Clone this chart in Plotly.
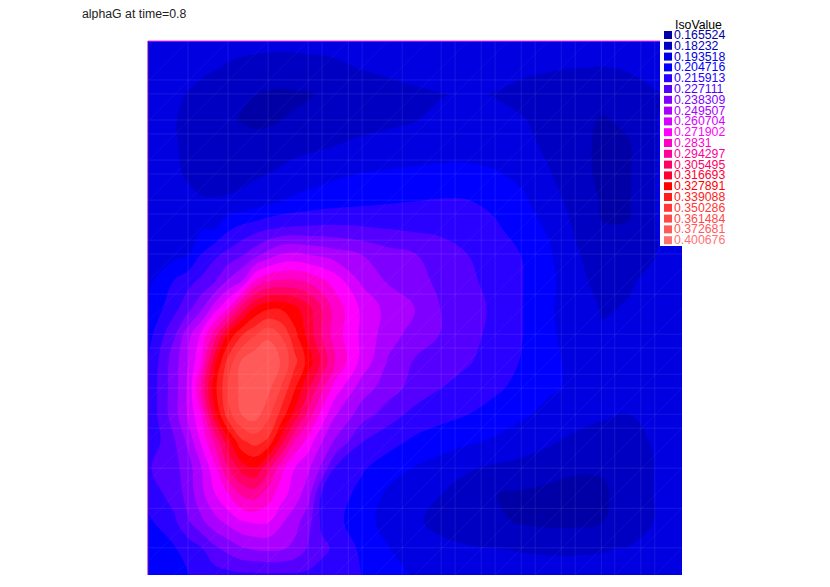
"""
alphaG field at time=0.8, filled iso-value plot.
"""

import plotly.graph_objects as go

title_text = "alphaG at time=0.8"
legend_title = "IsoValue"

iso_labels = [
    "0.165524", "0.18232", "0.193518", "0.204716", "0.215913",
    "0.227111", "0.238309", "0.249507", "0.260704", "0.271902",
    "0.2831", "0.294297", "0.305495", "0.316693", "0.327891",
    "0.339088", "0.350286", "0.361484", "0.372681", "0.400676",
]
iso_colors = [
    "#0000a6", "#0000c3", "#0000e1", "#0000ff", "#2a00ff",
    "#5500ff", "#8000ff", "#aa00ff", "#d500ff", "#ff00ff",
    "#ff00cc", "#ff0099", "#ff0066", "#ff0033", "#ff0000",
    "#ff1c1c", "#ff3838", "#ff4848", "#ff5a5a", "#ff7272",
]

# iso lines used for the filled bands (0.18232 up to 0.372681)
first_level = 0.18232
level_step = 0.011198
last_level = 0.37269

# columns are closer together across the peak
grid_x = [0.00, 0.05, 0.075, 0.10, 0.125, 0.15, 0.175, 0.20, 0.225, 0.25, 0.275, 0.30, 0.325, 0.35,
          0.40, 0.45, 0.50, 0.55, 0.60, 0.65, 0.70, 0.75, 0.80, 0.85, 0.90, 0.95, 1.00]
grid_y = [0.00, 0.05, 0.10, 0.15, 0.20, 0.25, 0.30, 0.35, 0.40, 0.45, 0.50,
          0.55, 0.60, 0.65, 0.70, 0.75, 0.80, 0.85, 0.90, 0.95, 1.00]

# rows run from the top of the picture to the bottom
alpha_g = [
    [.2012, .2001, .1995, .1990, .1985, .1979, .1973, .1968, .1968, .1968, .1968, .1968, .1968, .1968, .1968, .1979, .1979, .1990, .1990, .1979, .1968, .1968, .1956, .1956, .1968, .1979, .2001],
    [.2001, .1990, .1978, .1962, .1942, .1923, .1910, .1900, .1893, .1889, .1893, .1900, .1907, .1917, .1940, .1956, .1973, .1990, .1990, .1973, .1956, .1945, .1936, .1934, .1945, .1968, .1990],
    [.1990, .1956, .1928, .1900, .1878, .1861, .1830, .1824, .1813, .1805, .1811, .1815, .1835, .1856, .1878, .1900, .1917, .1932, .1945, .1932, .1906, .1884, .1872, .1867, .1889, .1928, .1968],
    [.1984, .1940, .1912, .1889, .1861, .1835, .1819, .1800, .1805, .1824, .1833, .1850, .1861, .1872, .1900, .1917, .1934, .1956, .1968, .1956, .1943, .1906, .1867, .1811, .1844, .1932, .1968],
    [.1984, .1940, .1923, .1906, .1891, .1884, .1878, .1878, .1884, .1895, .1906, .1917, .1928, .1940, .1962, .1979, .2001, .2012, .2012, .2001, .1968, .1917, .1861, .1800, .1811, .1932, .1968],
    [.1984, .1945, .1928, .1917, .1909, .1906, .1912, .1923, .1936, .1956, .1979, .1996, .2012, .2029, .2052, .2063, .2068, .2074, .2074, .2057, .2024, .1945, .1867, .1800, .1811, .1934, .1968],
    [.1990, .1968, .1951, .1940, .1940, .1945, .1956, .1979, .2012, .2046, .2068, .2085, .2102, .2113, .2130, .2147, .2158, .2169, .2164, .2124, .2068, .1984, .1895, .1815, .1815, .1934, .1968],
    [.2007, .2018, .2024, .2035, .2040, .2136, .2186, .2220, .2253, .2276, .2283, .2287, .2292, .2292, .2281, .2264, .2248, .2242, .2214, .2180, .2096, .2035, .1923, .1826, .1826, .1934, .1968],
    [.1979, .2012, .2035, .2164, .2248, .2304, .2365, .2449, .2539, .2617, .2634, .2606, .2584, .2550, .2494, .2427, .2388, .2326, .2270, .2214, .2158, .2063, .1951, .1867, .1884, .1934, .1968],
    [.2018, .2169, .2236, .2298, .2376, .2511, .2606, .2847, .2942, .2964, .2964, .2931, .2864, .2785, .2589, .2483, .2416, .2360, .2298, .2225, .2164, .2080, .1968, .1900, .1928, .1951, .1973],
    [.2063, .2236, .2343, .2472, .2662, .2830, .3088, .3289, .3368, .3373, .3312, .3205, .3054, .2903, .2696, .2567, .2494, .2376, .2320, .2248, .2164, .2063, .1990, .1928, .1940, .1962, .1979],
    [.2113, .2371, .2567, .2740, .2998, .3300, .3491, .3603, .3704, .3603, .3424, .3244, .3054, .2892, .2696, .2544, .2449, .2376, .2309, .2236, .2164, .2068, .2001, .1945, .1968, .1979, .1990],
    [.2158, .2449, .2606, .2830, .3244, .3547, .3737, .3816, .3816, .3715, .3536, .3345, .3144, .2948, .2684, .2483, .2371, .2326, .2281, .2220, .2152, .2080, .2012, .1973, .1979, .1984, .1996],
    [.2180, .2449, .2628, .2964, .3356, .3614, .3760, .3816, .3760, .3603, .3401, .3183, .2976, .2785, .2550, .2438, .2337, .2270, .2225, .2180, .2124, .2063, .2029, .1996, .1990, .1990, .2001],
    [.2180, .2449, .2623, .2830, .3250, .3569, .3726, .3782, .3648, .3457, .3239, .3009, .2796, .2617, .2438, .2320, .2236, .2197, .2158, .2113, .2063, .2018, .1984, .1956, .1934, .1956, .1984],
    [.2180, .2376, .2522, .2740, .2964, .3244, .3480, .3547, .3480, .3211, .2942, .2785, .2617, .2483, .2276, .2203, .2136, .2091, .2063, .2029, .1990, .1951, .1906, .1872, .1878, .1951, .1984],
    [.2259, .2348, .2444, .2606, .2796, .3048, .3211, .3272, .3088, .2864, .2718, .2628, .2472, .2264, .2175, .2096, .2040, .2001, .1945, .1917, .1900, .1872, .1839, .1833, .1850, .1940, .1979],
    [.2208, .2315, .2427, .2572, .2712, .2824, .2953, .2987, .2886, .2763, .2662, .2539, .2259, .2214, .2124, .2024, .1968, .1934, .1884, .1825, .1805, .1788, .1783, .1805, .1872, .1940, .1979],
    [.2136, .2253, .2371, .2472, .2567, .2640, .2712, .2735, .2729, .2623, .2539, .2427, .2248, .2192, .2096, .2001, .1956, .1895, .1867, .1844, .1811, .1795, .1795, .1820, .1872, .1940, .1984],
    [.2080, .2152, .2208, .2264, .2360, .2421, .2483, .2511, .2522, .2511, .2466, .2371, .2298, .2253, .2136, .2052, .1990, .1968, .1945, .1936, .1928, .1923, .1923, .1928, .1940, .1956, .1996],
    [.2057, .2124, .2155, .2192, .2220, .2236, .2248, .2248, .2253, .2253, .2253, .2248, .2231, .2208, .2158, .2091, .2035, .2012, .1990, .1979, .1973, .1968, .1968, .1968, .1979, .1990, .2012],
]

# faint finite element mesh lines over the field
mesh_x = [.075, .150, .225, .300, .326, .375, .401, .476, .549, .575,
          .624, .650, .699, .725, .774, .800, .849, .874, .923, .949]
mesh_y = [.073, .099, .148, .174, .223, .249, .298, .324, .373, .399,
          .474, .549, .575, .624, .650, .699, .725, .800, .875, .949]
mesh_diag = [.075 * k for k in range(1, 27)]

# page geometry in pixels, the browser puts an 8px body margin round the figure
PAGE_MARGIN = 8
WIDTH, HEIGHT = 830 - PAGE_MARGIN, 587 - PAGE_MARGIN
PLOT_LEFT, PLOT_TOP, PLOT_SIZE = 148, 41, 534


def px_x(px):
    return (px - PLOT_LEFT) / PLOT_SIZE


def px_y(py):
    return 1 - (py - PLOT_TOP) / PLOT_SIZE


band_count = len(iso_colors) - 1
band_scale = [[i / (band_count - 1), c] for i, c in enumerate(iso_colors[:band_count])]

fig = go.Figure()

fig.add_trace(go.Contour(
    x=grid_x,
    y=grid_y,
    z=alpha_g,
    colorscale=band_scale,
    showscale=False,
    autocontour=False,
    contours=dict(coloring="fill", start=first_level, end=last_level, size=level_step),
    line=dict(width=0, smoothing=1.2),
    hoverinfo="skip",
))

# straight mesh lines
line_x, line_y = [], []
for x in mesh_x:
    line_x += [x, x, None]
    line_y += [0, 1, None]
for y in mesh_y:
    line_x += [0, 1, None]
    line_y += [y, y, None]
fig.add_trace(go.Scatter(
    x=line_x, y=line_y, mode="lines",
    line=dict(color="rgba(255,255,255,0.09)", width=1),
    hoverinfo="skip", showlegend=False,
))

# diagonals of the triangles
diag_x, diag_y = [], []
for c in mesh_diag:
    x0, x1 = max(0, c - 1), min(1, c)
    diag_x += [x0, x1, None]
    diag_y += [c - x0, c - x1, None]
fig.add_trace(go.Scatter(
    x=diag_x, y=diag_y, mode="lines",
    line=dict(color="rgba(255,255,255,0.05)", width=1),
    hoverinfo="skip", showlegend=False,
))

shapes = [
    # domain border, only the top and left edges show
    dict(type="line", xref="paper", yref="paper",
         x0=px_x(PLOT_LEFT), x1=px_x(PLOT_LEFT + PLOT_SIZE), y0=px_y(PLOT_TOP), y1=px_y(PLOT_TOP),
         line=dict(color="#ff30ff", width=1)),
    dict(type="line", xref="paper", yref="paper",
         x0=px_x(PLOT_LEFT), x1=px_x(PLOT_LEFT), y0=px_y(PLOT_TOP), y1=px_y(PLOT_TOP + PLOT_SIZE),
         line=dict(color="#8000a0", width=1)),
    # white block behind the legend
    dict(type="rect", xref="paper", yref="paper",
         x0=px_x(660), x1=px_x(728), y0=px_y(17), y1=px_y(246),
         fillcolor="white", line=dict(width=0), layer="above"),
]

annotations = [
    dict(text=title_text, xref="paper", yref="paper", x=px_x(81), y=px_y(14),
         xanchor="left", yanchor="middle", showarrow=False,
         height=12, borderpad=0,
         font=dict(family="Liberation Sans", size=12.3, color="#222222")),
    dict(text=legend_title, xref="paper", yref="paper", x=px_x(698), y=px_y(25),
         xanchor="center", yanchor="middle", showarrow=False, borderpad=0,
         font=dict(family="Liberation Sans", size=12.3, color="black")),
]

for i, (label, color) in enumerate(zip(iso_labels, iso_colors)):
    row_y = 35 + i * 10.8
    shapes.append(dict(type="rect", xref="paper", yref="paper",
                       x0=px_x(664), x1=px_x(672), y0=px_y(row_y - 4), y1=px_y(row_y + 4),
                       fillcolor=color, line=dict(width=0), layer="above"))
    annotations.append(dict(text=label, xref="paper", yref="paper", x=px_x(673), y=px_y(row_y),
                            xanchor="left", yanchor="middle", showarrow=False, borderpad=0,
                            font=dict(family="Liberation Sans", size=12.3, color=color)))

fig.update_layout(
    width=WIDTH,
    height=HEIGHT,
    margin=dict(l=PLOT_LEFT - PAGE_MARGIN, r=WIDTH + PAGE_MARGIN - PLOT_LEFT - PLOT_SIZE,
                t=PLOT_TOP - PAGE_MARGIN, b=HEIGHT + PAGE_MARGIN - PLOT_TOP - PLOT_SIZE, pad=0),
    paper_bgcolor="white",
    plot_bgcolor="white",
    showlegend=False,
    xaxis=dict(visible=False, range=[0, 1]),
    yaxis=dict(visible=False, range=[1, 0]),
    shapes=shapes,
    annotations=annotations,
)

fig.write_html("out.html")
